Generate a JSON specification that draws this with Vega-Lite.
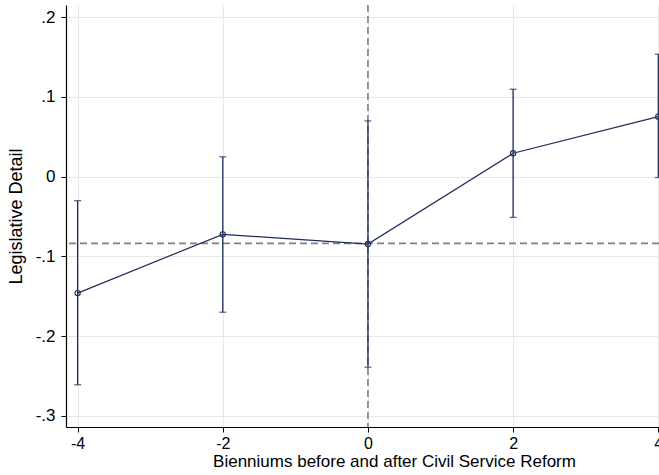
{
  "$schema": "https://vega.github.io/schema/vega-lite/v6.json",
  "width": 593,
  "height": 422,
  "autosize": {"type": "none"},
  "padding": {"left": 66, "top": 5, "right": 0, "bottom": 48},
  "background": "white",
  "config": {
    "view": {"stroke": null},
    "font": "Liberation Sans",
    "axis": {
      "domainColor": "black",
      "domainWidth": 1.2,
      "tickColor": "black",
      "tickSize": 5,
      "tickWidth": 1,
      "labelFontSize": 17,
      "labelColor": "black",
      "labelFont": "Liberation Sans",
      "titleFont": "Liberation Sans",
      "titleFontSize": 17,
      "titleFontWeight": "normal",
      "titleColor": "black",
      "grid": true,
      "gridColor": "#e8e8e8",
      "gridWidth": 1,
      "labelFlush": false,
      "labelOverlap": false,
      "labelBound": false
    }
  },
  "datasets": {
    "est": [
      {"x": -4, "b": -0.146, "lo": -0.261, "hi": -0.030},
      {"x": -2, "b": -0.0723, "lo": -0.170, "hi": 0.025},
      {"x": 0, "b": -0.0845, "lo": -0.239, "hi": 0.070},
      {"x": 2, "b": 0.0294, "lo": -0.051, "hi": 0.1097},
      {"x": 4, "b": 0.0753, "lo": -0.001, "hi": 0.1536}
    ],
    "refs": [{"vx": 0, "hy": -0.0836}]
  },
  "layer": [
    {
      "data": {"name": "refs"},
      "mark": {"type": "rule", "color": "#808080", "strokeWidth": 1.6, "strokeDash": [7, 4]},
      "encoding": {
        "y": {
          "field": "hy",
          "type": "quantitative",
          "scale": {"domain": [-0.314, 0.2154], "nice": false, "zero": false},
          "axis": {
            "values": [-0.3, -0.2, -0.1, 0, 0.1, 0.2],
            "labelAngle": 0,
            "labelPadding": 6,
            "labelExpr": "datum.value == 0 ? '0' : (datum.value < 0 ? '-' : '') + replace(format(abs(datum.value), '.1f'), '0.', '.')",
            "title": "Legislative Detail",
            "titleFontSize": 18,
            "titlePadding": 10
          }
        }
      }
    },
    {
      "data": {"name": "refs"},
      "mark": {"type": "rule", "color": "#808080", "strokeWidth": 1.6, "strokeDash": [7, 4]},
      "encoding": {
        "x": {
          "field": "vx",
          "type": "quantitative",
          "scale": {"domain": [-4.16, 4.01], "nice": false, "zero": false},
          "axis": {
            "values": [-4, -2, 0, 2, 4],
            "labelPadding": 3,
            "labelFontSize": 16,
            "labelExpr": "(datum.value < 0 ? '-' : '') + abs(datum.value)",
            "title": "Bienniums before and after Civil Service Reform",
            "titlePadding": 2,
            "titleX": 328
          }
        }
      }
    },
    {
      "data": {"name": "est"},
      "mark": {"type": "rule", "color": "#1f2d5c", "strokeWidth": 1.3},
      "encoding": {
        "x": {"field": "x", "type": "quantitative"},
        "y": {"field": "lo", "type": "quantitative"},
        "y2": {"field": "hi"}
      }
    },
    {
      "data": {"name": "est"},
      "mark": {"type": "tick", "orient": "horizontal", "color": "#1f2d5c", "size": 7, "thickness": 1.3},
      "encoding": {
        "x": {"field": "x", "type": "quantitative"},
        "y": {"field": "lo", "type": "quantitative"}
      }
    },
    {
      "data": {"name": "est"},
      "mark": {"type": "tick", "orient": "horizontal", "color": "#1f2d5c", "size": 7, "thickness": 1.3},
      "encoding": {
        "x": {"field": "x", "type": "quantitative"},
        "y": {"field": "hi", "type": "quantitative"}
      }
    },
    {
      "data": {"name": "est"},
      "mark": {"type": "line", "color": "#1f2d5c", "strokeWidth": 1.2},
      "encoding": {
        "x": {"field": "x", "type": "quantitative"},
        "y": {"field": "b", "type": "quantitative"}
      }
    },
    {
      "data": {"name": "est"},
      "mark": {"type": "point", "shape": "circle", "filled": false, "color": "#1f2d5c", "size": 28, "strokeWidth": 1.1, "opacity": 1},
      "encoding": {
        "x": {"field": "x", "type": "quantitative"},
        "y": {"field": "b", "type": "quantitative"}
      }
    }
  ]
}
